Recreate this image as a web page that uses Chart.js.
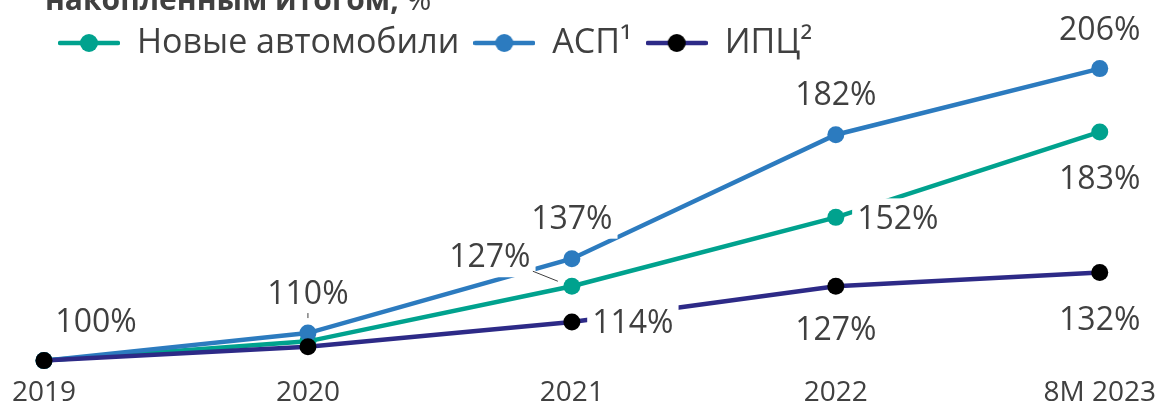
<!DOCTYPE html>
<html>
<head>
<meta charset="utf-8">
<script src="https://cdn.jsdelivr.net/npm/chart.js@4"></script>
<style>
  html, body { margin: 0; padding: 0; background: #fff; overflow: hidden; }
  #wrap { position: relative; width: 1166px; height: 420px; }
  #title { position: absolute; left: 45px; top: -16px; font: 700 30px "Open Sans", sans-serif; color: #404040; white-space: nowrap; line-height: 30px; }
  #title span { font-weight: 400; }
</style>
</head>
<body>
<div id="wrap">
  <canvas id="line_chart"></canvas>
  <div id="title">накопленным итогом, <span>%</span></div>
</div>
<script>
// Data
var years = ["2019", "2020", "2021", "2022", "8M 2023"];
var newCars = [100, 107, 127, 152, 183];
var asp = [100, 110, 137, 182, 206];
var cpi = [100, 105, 114, 127, 132];
var seriesNames = ["Новые автомобили", "АСП¹", "ИПЦ²"];

var GREEN = '#00a28e', BLUE = '#2c7bbf', NAVY = '#2d2a87', TEXT = '#404040';

// legend icon: line with a dot in the middle
function legendIcon(lineColor, dotColor) {
    var c = document.createElement('canvas');
    c.width = 62; c.height = 20;
    var x = c.getContext('2d');
    x.strokeStyle = lineColor;
    x.lineWidth = 4.5;
    x.lineCap = 'round';
    x.beginPath(); x.moveTo(2, 10); x.lineTo(60, 10); x.stroke();
    x.fillStyle = dotColor;
    x.beginPath(); x.arc(31, 10, 9, 0, Math.PI * 2); x.fill();
    return c;
}

//labels: which points get one, and where it sits relative to the point
var labelPlugin = {
    id: 'valueLabels',
    afterDatasetsDraw: function (chart, args, opts) {
        var ctx = chart.ctx;
        ctx.save();
        ctx.font = opts.font;
        ctx.textAlign = 'center';
        ctx.textBaseline = 'middle';
        opts.items.forEach(function (it) {
            var pt = chart.getDatasetMeta(it.ds).data[it.i];
            var text = chart.data.datasets[it.ds].data[it.i] + '%';
            var cx = pt.x + it.dx, cy = pt.y + it.dy;
            var w = ctx.measureText(text).width;
            ctx.fillStyle = '#fff';
            ctx.fillRect(cx - w / 2 - 5, cy - 20, w + 10, 41);
            ctx.fillStyle = TEXT;
            ctx.fillText(text, cx, cy + 2);
            if (it.leader) {
                ctx.strokeStyle = '#404040';
                ctx.lineWidth = 1;
                ctx.beginPath();
                ctx.moveTo(pt.x + it.leader[0], pt.y + it.leader[1]);
                ctx.lineTo(pt.x + it.leader[2], pt.y + it.leader[3]);
                ctx.stroke();
            }
        });
        ctx.restore();
    }
};

function makeDataset(label, data, color, dotColor, order) {
    return {
        label: label,
        data: data,
        borderColor: color,
        backgroundColor: dotColor,
        pointBackgroundColor: dotColor,
        pointBorderWidth: 0,
        pointRadius: 8.5,
        borderWidth: 4.5,
        tension: 0,
        clip: false,
        order: order,
        iconStyle: legendIcon(color, dotColor)
    };
}

var config = {
    type: 'line',
    data: {
        labels: years,
        datasets: [
            makeDataset(seriesNames[0], newCars, GREEN, GREEN, 2),
            makeDataset(seriesNames[1], asp, BLUE, BLUE, 1),
            makeDataset(seriesNames[2], cpi, NAVY, '#000000', 0)
        ]
    },
    options: {
        responsive: true,
        maintainAspectRatio: false,
        animation: false,
        layout: { padding: { left: 44, right: 66, top: 12, bottom: 0 } },
        scales: {
            x: {
                grid: { display: false, drawTicks: false },
                border: { display: false },
                ticks: { color: TEXT, font: { family: 'Open Sans', size: 28 }, padding: 10, maxRotation: 0, autoSkip: false }
            },
            y: { display: false, min: 97.9, max: 205.5 }
        },
        plugins: {
            tooltip: { enabled: false },
            legend: {
                position: 'top',
                align: 'start',
                labels: {
                    usePointStyle: true,
                    pointStyleWidth: 62,
                    padding: 14,
                    color: TEXT,
                    font: { family: 'Open Sans', size: 34 },
                    generateLabels: function (chart) {
                        return chart.data.datasets.map(function (ds, i) {
                            return { text: ds.label, pointStyle: ds.iconStyle, fontColor: TEXT, hidden: false, datasetIndex: i, lineWidth: 0, strokeStyle: 'rgba(0,0,0,0)', fillStyle: 'rgba(0,0,0,0)' };
                        });
                    }
                }
            },
            valueLabels: {
                font: '32px "Open Sans"',
                items: [
                    { ds: 0, i: 0, dx: 52, dy: -40 },
                    { ds: 1, i: 1, dx: 0, dy: -40, leader: [0, -20, 0, -15] },
                    { ds: 0, i: 2, dx: -82, dy: -30, leader: [-39, -15, -14, -5] },
                    { ds: 1, i: 2, dx: 0, dy: -41 },
                    { ds: 2, i: 2, dx: 61, dy: 0 },
                    { ds: 1, i: 3, dx: 0, dy: -41 },
                    { ds: 0, i: 3, dx: 62, dy: 1 },
                    { ds: 2, i: 3, dx: 0, dy: 43 },
                    { ds: 1, i: 4, dx: 0, dy: -40 },
                    { ds: 0, i: 4, dx: 0, dy: 46 },
                    { ds: 2, i: 4, dx: 0, dy: 46 }
                ]
            }
        }
    },
    plugins: [labelPlugin]
};

new Chart(document.getElementById("line_chart").getContext("2d"), config);
</script>
</body>
</html>
